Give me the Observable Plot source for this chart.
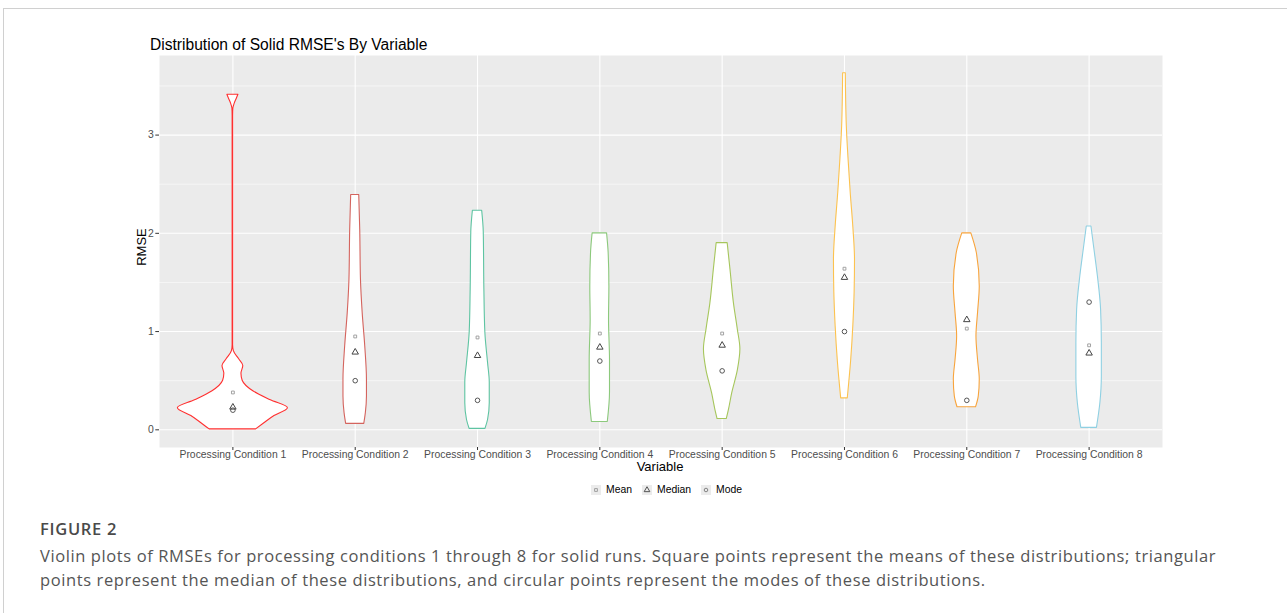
<!DOCTYPE html>
<html>
<head>
<meta charset="utf-8">
<script src="https://cdn.jsdelivr.net/npm/d3@7"></script>
<script src="https://cdn.jsdelivr.net/npm/@observablehq/plot@0.6"></script>
<style>
  html, body { margin: 0; padding: 0; background: #fff; }
  #page { position: relative; width: 1287px; height: 613px; overflow: hidden; font-family: "Liberation Sans", Arial, sans-serif; }
  #frame { position: absolute; left: 3px; top: 8px; right: -2px; bottom: -2px; border-top: 1px solid #d0d0d0; border-left: 1px solid #d0d0d0; }
  #title { position: absolute; left: 150px; top: 36px; font-size: 15.6px; color: #000; white-space: nowrap; }
  #ylabel { position: absolute; left: 141px; top: 247px; font-size: 13px; color: #000; transform: translate(-50%, -50%) rotate(-90deg); white-space: nowrap; }
  #chart { position: absolute; left: 0; top: 50px; }
  #xlabel { position: absolute; left: 660px; top: 459px; font-size: 13px; color: #000; transform: translateX(-50%); white-space: nowrap; }
  #legend { position: absolute; top: 484px; left: 591px; display: flex; align-items: center; font-size: 10.4px; color: #000; white-space: nowrap; }
  .item { display: flex; align-items: center; margin-right: 10px; }
  .item svg { margin-right: 5px; }
  #fig { position: absolute; left: 40px; top: 517px; font-family: "Open Sans", "Noto Sans", sans-serif; font-weight: 600; font-size: 16.5px; color: #4a4a4a; letter-spacing: 0.7px; white-space: nowrap; }
  #caption { position: absolute; left: 40px; top: 544px; font-family: "Open Sans", "Noto Sans", sans-serif; font-size: 16.5px; line-height: 24px; color: #555; letter-spacing: 0.6px; white-space: nowrap; }
</style>
</head>
<body>
<div id="page">
  <div id="frame"></div>
  <div id="title">Distribution of Solid RMSE's By Variable</div>
  <div id="ylabel">RMSE</div>
  <div id="chart"></div>
  <div id="xlabel">Variable</div>
  <div id="legend"></div>
  <div id="fig">FIGURE 2</div>
  <div id="caption">Violin plots of RMSEs for processing conditions 1 through 8 for solid runs. Square points represent the means of these distributions; triangular<br>points represent the median of these distributions, and circular points represent the modes of these distributions.</div>
</div>
<script>
// ---- data ----
const conditions = ["Processing Condition 1", "Processing Condition 2", "Processing Condition 3", "Processing Condition 4",
                    "Processing Condition 5", "Processing Condition 6", "Processing Condition 7", "Processing Condition 8"];
const violinColors = ["#ff3030", "#d4645e", "#5ec4a2", "#8cc97c", "#a6c65c", "#fcc24f", "#f8a43c", "#8fd0e2"];
const yTicks = [0, 1, 2, 3];
const yMinorTicks = [0.5, 1.5, 2.5, 3.5];

// violin outlines: RMSE level (bottom to top) and half width of the density (category units)
const cond1Rmse  = [0.005, 0.07, 0.14, 0.22, 0.30, 0.39, 0.50, 0.57, 0.65, 0.72, 0.80, 0.86, 3.20, 3.27, 3.32, 3.37, 3.41];
const cond1Width = [0.19, 0.26, 0.34, 0.45, 0.31, 0.17, 0.08, 0.07, 0.085, 0.05, 0.008, 0.002, 0.002, 0.004, 0.015, 0.032, 0.045];
const cond2Rmse  = [0.06, 0.17, 0.34, 0.51, 0.85, 1.19, 1.53, 2.04, 2.39];
const cond2Width = [0.074, 0.087, 0.096, 0.096, 0.082, 0.061, 0.047, 0.041, 0.033];
const cond3Rmse  = [0.01, 0.10, 0.27, 0.48, 0.68, 0.99, 1.43, 2.01, 2.23];
const cond3Width = [0.065, 0.086, 0.10, 0.10, 0.086, 0.064, 0.056, 0.051, 0.038];
const cond4Rmse  = [0.08, 0.38, 0.71, 1.12, 1.46, 1.80, 2.00];
const cond4Width = [0.065, 0.083, 0.083, 0.075, 0.078, 0.072, 0.059];
const cond5Rmse  = [0.11, 0.20, 0.37, 0.61, 0.82, 1.02, 1.29, 1.63, 1.90];
const cond5Width = [0.038, 0.055, 0.082, 0.129, 0.149, 0.128, 0.096, 0.068, 0.045];
const cond6Rmse  = [0.32, 0.71, 1.05, 1.40, 1.73, 2.07, 2.41, 2.76, 3.09, 3.63];
const cond6Width = [0.027, 0.055, 0.072, 0.083, 0.086, 0.072, 0.051, 0.033, 0.019, 0.011];
const cond7Rmse  = [0.23, 0.34, 0.51, 0.71, 0.95, 1.19, 1.46, 1.80, 2.00];
const cond7Width = [0.076, 0.098, 0.106, 0.092, 0.079, 0.092, 0.106, 0.082, 0.037];
const cond8Rmse  = [0.02, 0.27, 0.54, 0.88, 1.22, 1.56, 1.84, 2.07];
const cond8Width = [0.064, 0.092, 0.104, 0.104, 0.098, 0.072, 0.043, 0.019];

const meanRmse   = [0.38, 0.95, 0.94, 0.98, 0.98, 1.64, 1.03, 0.86];
const medianRmse = [0.23, 0.79, 0.755, 0.84, 0.86, 1.55, 1.12, 0.78];
const modeRmse   = [0.20, 0.50, 0.30, 0.70, 0.60, 1.00, 0.30, 1.30];

// ---- build tables ----
const profiles = [
  [cond1Rmse, cond1Width], [cond2Rmse, cond2Width], [cond3Rmse, cond3Width], [cond4Rmse, cond4Width],
  [cond5Rmse, cond5Width], [cond6Rmse, cond6Width], [cond7Rmse, cond7Width], [cond8Rmse, cond8Width]
];
const violins = profiles.map(([r, w], i) => r.map((v, k) => ({cond: i + 1, v, w: w[k]})));
const stats = conditions.map((c, i) => ({cond: i + 1, mean: meanRmse[i], median: medianRmse[i], mode: modeRmse[i]}));
const catIdx = conditions.map((c, i) => i + 1);

const chart = Plot.plot({
  width: 1287,
  height: 417,
  marginLeft: 159,
  marginRight: 125,
  marginTop: 5,
  marginBottom: 20,
  style: {fontFamily: "'Liberation Sans', Arial, sans-serif", fontSize: "10.4px", background: "transparent"},
  x: {domain: [0.4, 8.6], label: null},
  y: {domain: [-0.18, 3.81], label: null},
  marks: [
    Plot.frame({fill: "#ebebeb", stroke: null}),
    Plot.ruleY(yMinorTicks, {stroke: "#fff", strokeWidth: 0.55}),
    Plot.ruleY(yTicks, {stroke: "#fff", strokeWidth: 1.1}),
    Plot.ruleX(catIdx, {stroke: "#fff", strokeWidth: 1.1}),
    Plot.axisY({ticks: yTicks, tickSize: 3.7, tickPadding: 2, stroke: "#333", fill: "#4d4d4d", label: null, tickFormat: d3.format("d")}),
    Plot.axisX({ticks: catIdx, tickSize: 3, tickPadding: 0, stroke: "#333", fill: "#4d4d4d", label: null, tickFormat: d => conditions[d - 1]}),
    ...violins.map((rows, i) => Plot.areaX(rows, {
      y: "v", x1: d => d.cond - d.w, x2: d => d.cond + d.w,
      fill: "#fff", stroke: violinColors[i], strokeWidth: 1.1, curve: "monotone-y"
    })),
    Plot.dot(stats, {x: "cond", y: "mode", symbol: "circle", r: 2.3, stroke: "#555", fill: "none", strokeWidth: 1}),
    Plot.dot(stats, {x: "cond", y: "median", symbol: "triangle", r: 2.4, stroke: "#444", fill: "none", strokeWidth: 1}),
    Plot.dot(stats, {x: "cond", y: "mean", symbol: "square", r: 1.6, stroke: "#999", fill: "none", strokeWidth: 0.9})
  ]
});
document.getElementById("chart").appendChild(chart);

// legend
const legendItems = [
  {label: "Mean", symbol: d3.symbolSquare, size: 8, stroke: "#999"},
  {label: "Median", symbol: d3.symbolTriangle, size: 14, stroke: "#444"},
  {label: "Mode", symbol: d3.symbolCircle, size: 10, stroke: "#777"}
];
const legend = d3.select("#legend");
legendItems.forEach(it => {
  const item = legend.append("div").attr("class", "item");
  const s = item.append("svg").attr("width", 10).attr("height", 10);
  s.append("rect").attr("width", 10).attr("height", 10).attr("fill", "#ebebeb");
  s.append("path").attr("transform", "translate(5,5)").attr("d", d3.symbol(it.symbol, it.size)())
    .attr("fill", "none").attr("stroke", it.stroke).attr("stroke-width", 0.9);
  item.append("span").text(it.label);
});
</script>
</body>
</html>
